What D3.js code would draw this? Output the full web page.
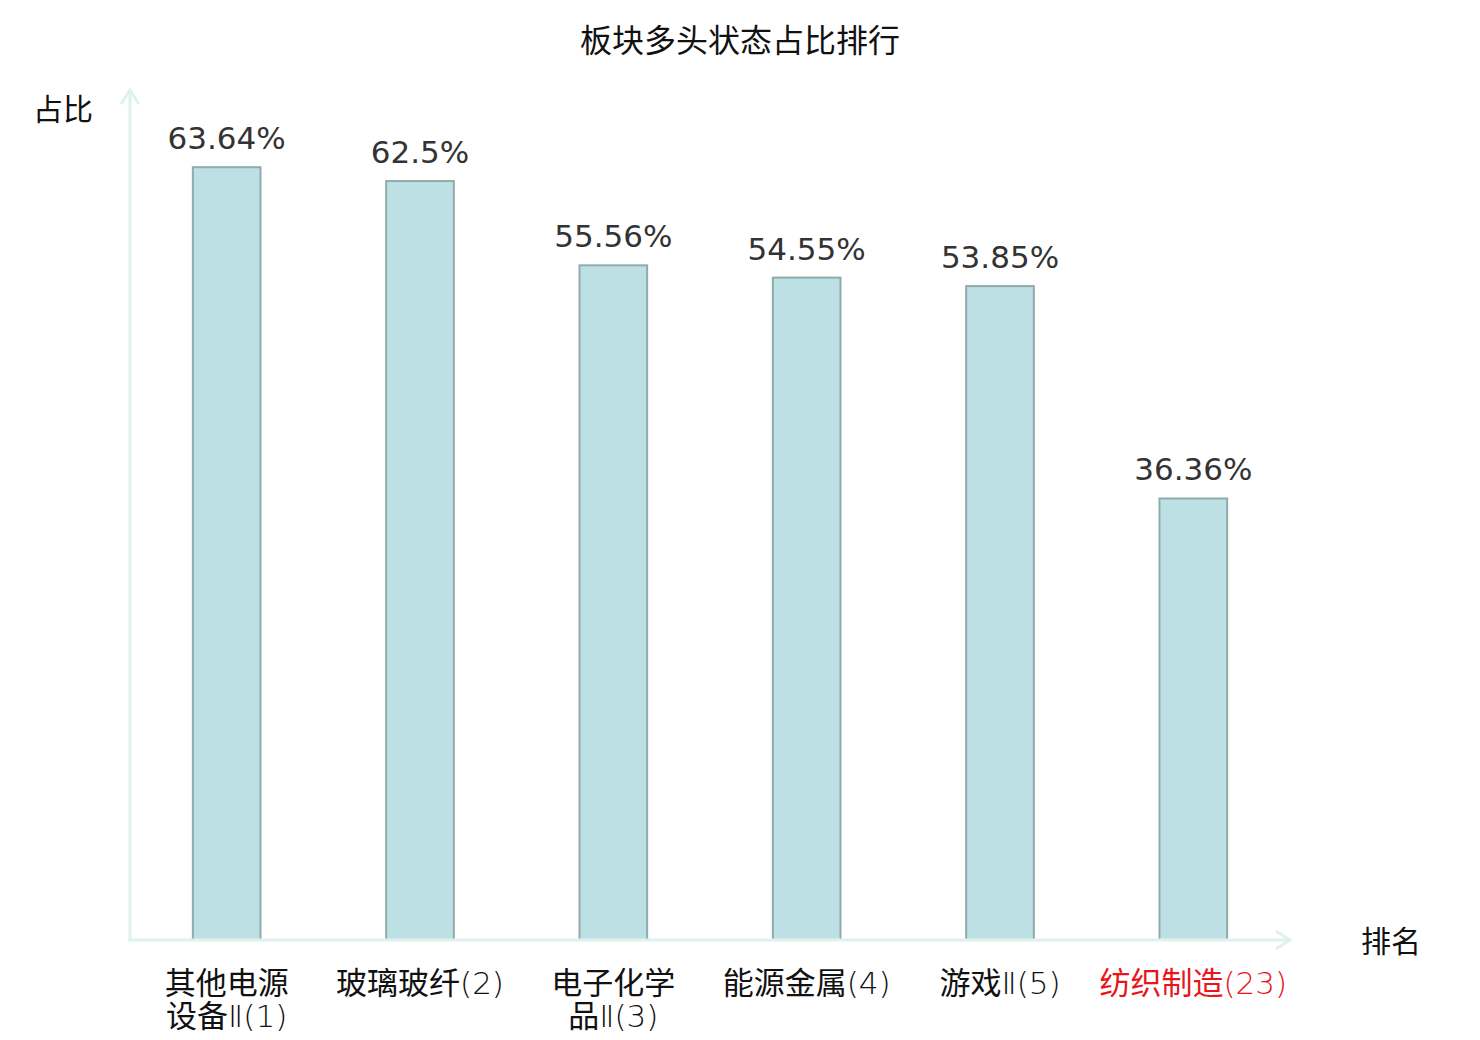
<!DOCTYPE html>
<html>
<head>
<meta charset="utf-8">
<script src="https://cdn.jsdelivr.net/npm/d3@7"></script>
<style>
  body { margin: 0; background: #fff; }
  svg { display: block; }
</style>
</head>
<body>
<svg id="mysvg"></svg>
<script>
// data
let categories = ["其他电源设备Ⅱ(1)", "玻璃玻纤(2)", "电子化学品Ⅱ(3)", "能源金属(4)", "游戏Ⅱ(5)", "纺织制造(23)"];
let labelLines = [["其他电源", "设备Ⅱ(1)"], ["玻璃玻纤(2)"], ["电子化学", "品Ⅱ(3)"], ["能源金属(4)"], ["游戏Ⅱ(5)"], ["纺织制造(23)"]];
let values = [63.64, 62.5, 55.56, 54.55, 53.85, 36.36];
let highlight = [false, false, false, false, false, true];

let W = 1480, H = 1040;
let svg = d3.select("#mysvg").attr("width", W).attr("height", H);

let x0 = 130, x1 = 1290, yBase = 940, yTop = 90;
let cjk = "'Noto Sans CJK SC', 'Noto Sans', sans-serif";
let thin = "'DejaVu Sans', 'Noto Sans CJK SC', sans-serif";
let axisColor = "#dff2ef";

let x = d3.scaleBand().domain(categories).range([x0, x1]).paddingInner(0.65).paddingOuter(0.325);
let y = d3.scaleLinear().domain([0, 70]).range([yBase, yTop]);

// title
svg.append("text")
    .attr("x", W / 2).attr("y", 52)
    .attr("text-anchor", "middle")
    .attr("font-family", cjk).attr("font-size", "32px")
    .attr("fill", "#111")
    .text("板块多头状态占比排行");

// bars
svg.selectAll(".bar")
    .data(values).enter().append("rect")
    .attr("class", "bar")
    .attr("x", function(d, i) { return x(categories[i]); })
    .attr("width", x.bandwidth())
    .attr("y", function(d) { return y(d); })
    .attr("height", function(d) { return yBase - y(d); })
    .attr("fill", "#bce0e3")
    .attr("stroke", "#8fabab")
    .attr("stroke-width", 2);

// value labels
svg.selectAll(".val")
    .data(values).enter().append("text")
    .attr("class", "val")
    .attr("x", function(d, i) { return x(categories[i]) + x.bandwidth() / 2; })
    .attr("y", function(d) { return y(d) - 18; })
    .attr("text-anchor", "middle")
    .attr("font-family", "'DejaVu Sans', sans-serif")
    .attr("font-size", "31px")
    .attr("fill", "#333")
    .text(function(d) { return d + "%"; });

// axes with open arrows
svg.append("line")
    .attr("x1", x0).attr("y1", yBase + 1.5).attr("x2", x0).attr("y2", yTop)
    .attr("stroke", axisColor).attr("stroke-width", 3);
svg.append("line")
    .attr("x1", x0 - 1.5).attr("y1", yBase).attr("x2", x1).attr("y2", yBase)
    .attr("stroke", axisColor).attr("stroke-width", 3);
svg.append("path")
    .attr("d", "M" + (x0 - 9) + "," + (yTop + 14) + "L" + x0 + "," + yTop + "L" + (x0 + 9) + "," + (yTop + 14))
    .attr("fill", "none").attr("stroke", axisColor).attr("stroke-width", 3);
svg.append("path")
    .attr("d", "M" + (x1 - 14) + "," + (yBase - 9) + "L" + x1 + "," + yBase + "L" + (x1 - 14) + "," + (yBase + 9))
    .attr("fill", "none").attr("stroke", axisColor).attr("stroke-width", 3);

// axis names
svg.append("text")
    .attr("x", 63).attr("y", 120)
    .attr("text-anchor", "middle")
    .attr("font-family", cjk).attr("font-size", "30px").attr("fill", "#111")
    .text("占比");
svg.append("text")
    .attr("x", 1391).attr("y", 952)
    .attr("text-anchor", "middle")
    .attr("font-family", cjk).attr("font-size", "30px").attr("fill", "#111")
    .text("排名");

// category labels: CJK part regular, the rest in a thin latin face
function splitParts(s) {
    let m = s.match(/^([\u4e00-\u9fff]*)(.*)$/);
    let parts = [];
    if (m[1]) parts.push({ t: m[1], cjk: true });
    if (m[2]) parts.push({ t: m[2], cjk: false });
    return parts;
}

labelLines.forEach(function(lines, i) {
    let cx = x(categories[i]) + x.bandwidth() / 2;
    lines.forEach(function(line, j) {
        let t = svg.append("text")
            .attr("class", "cat")
            .attr("x", cx)
            .attr("y", 994 + j * 33)
            .attr("text-anchor", "middle")
            .attr("font-size", "31px")
            .attr("fill", highlight[i] ? "#e8151b" : "#111");
        splitParts(line).forEach(function(p) {
            t.append("tspan")
                .attr("font-family", p.cjk ? cjk : thin)
                .attr("font-weight", p.cjk ? 400 : 200)
                .text(p.t);
        });
    });
});
</script>
</body>
</html>
